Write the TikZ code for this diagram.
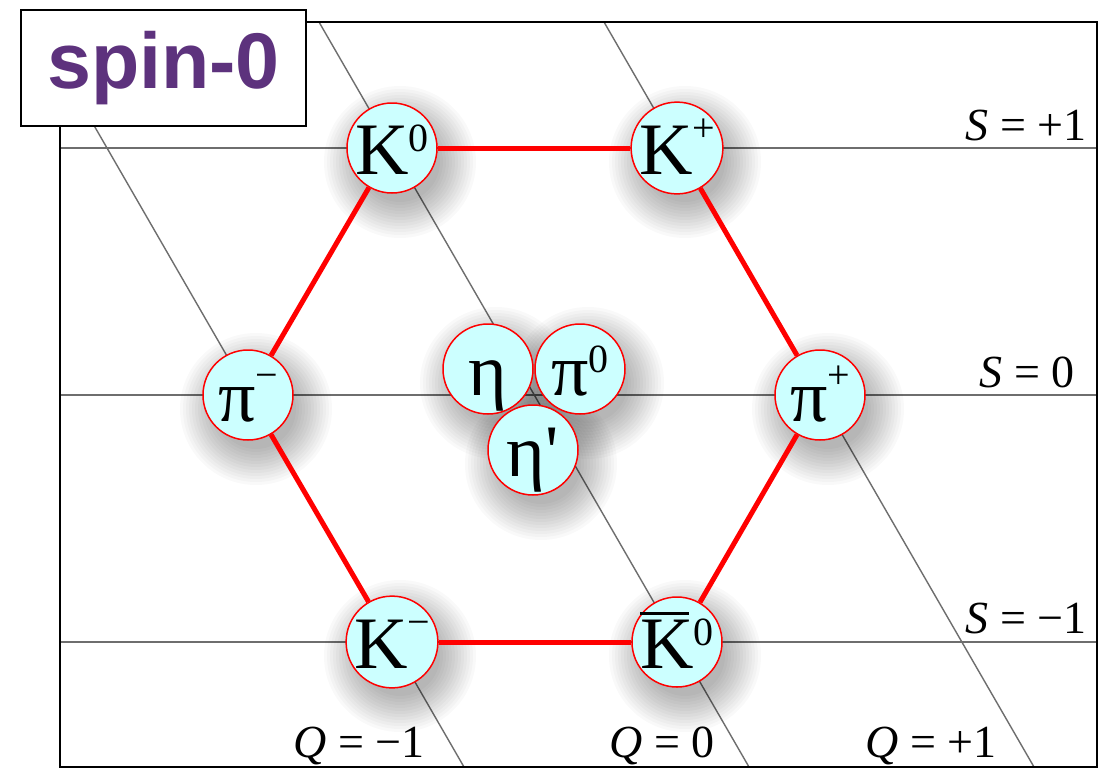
\documentclass[tikz,border=0pt]{standalone}
\usepackage{fontspec}
\setmainfont{Liberation Serif}
\newfontfamily\helv{Liberation Sans}
\usetikzlibrary{calc}
\definecolor{spinpurple}{RGB}{93,50,125}
\definecolor{nodecyan}{RGB}{204,255,255}
\definecolor{gridgray}{RGB}{110,110,110}
\pgfdeclarelayer{bg}\pgfdeclarelayer{shade}\pgfdeclarelayer{edges}
\pgfsetlayers{bg,shade,edges,main}
\newcommand\psup[1]{\raisebox{0.31em}{\fontsize{40}{40}\selectfont #1}}
\newcommand\psign[1]{\raisebox{0.44em}{\fontsize{40}{40}\selectfont #1}}
\newcommand\kbar{\leavevmode\rlap{\rule[0.71em]{0.66em}{0.045em}}K}
\newcommand\nshadow[1]{%
  \foreach \r in {40,43,...,76} {\fill[black,opacity=0.022] ($(#1.center)+(8,14)$) circle (\r pt);}}
\begin{document}
\begin{tikzpicture}[x=1pt,y=-1pt,
  particle/.style={circle, draw=red, line width=1.5pt, fill=nodecyan,
    minimum size=90pt, inner sep=0pt, text height=52pt, text depth=0pt,
    font=\fontsize{74}{74}\selectfont},
  grid/.style={draw=gridgray, line width=1.4pt},
  edge/.style={draw=red, line width=5pt},
  axislabel/.style={font=\fontsize{46}{46}\selectfont, inner sep=0pt},
  spinbox/.style={draw=black, line width=2pt, fill=white, inner sep=0pt,
    minimum width=285pt, minimum height=116pt, text=spinpurple,
    font=\helv\bfseries\fontsize{79}{79}\selectfont}]
\useasboundingbox (0,0) rectangle (1108,769);
% background, frame, grid
\begin{pgfonlayer}{bg}
  \fill[white] (0,0) rectangle (1108,769);
  \draw[grid] (60,148) -- (1097,148);
  \draw[grid] (60,395) -- (1097,395);
  \draw[grid] (60,642) -- (1097,642);
  \draw[grid] (60,66.5) -- (464,767);
  \draw[grid] (319,22) -- (749,767);
  \draw[grid] (604,22) -- (1034,767);
  \draw[black, line width=2pt] (60,22) rectangle (1097,767);
\end{pgfonlayer}
% particles
\node[particle] (K0)  at (392,148) {K\psup{0}};
\node[particle] (Kp)  at (677,148) {K\psign{+}};
\node[particle] (pim) at (248,395) {π\psign{−}};
\node[particle] (pip) at (820,395) {π\psign{+}};
\node[particle] (Km)  at (392,642) {K\psign{−}};
\node[particle] (K0b) at (677,642) {\kbar\psup{0}};
\node[particle] (eta) at (488,369) {η};
\node[particle] (pi0) at (580,369) {π\psup{0}};
\node[particle] (etap) at (533,450) {η\textquotesingle};
% shadows
\begin{pgfonlayer}{shade}
  \nshadow{K0}\nshadow{Kp}\nshadow{pim}\nshadow{pip}\nshadow{Km}\nshadow{K0b}
  \nshadow{eta}\nshadow{pi0}\nshadow{etap}
\end{pgfonlayer}
% hexagon
\begin{pgfonlayer}{edges}
  \draw[edge] (K0) -- (Kp);
  \draw[edge] (Kp) -- (pip);
  \draw[edge] (pip) -- (K0b);
  \draw[edge] (K0b) -- (Km);
  \draw[edge] (Km) -- (pim);
  \draw[edge] (pim) -- (K0);
\end{pgfonlayer}
% axis labels
\node[axislabel, anchor=base east] (S1)  at (1087,140) {\textit{S} = +1};
\node[axislabel, anchor=base east] (S0)  at (1075,387) {\textit{S} = 0};
\node[axislabel, anchor=base east] (Sm1) at (1087,633) {\textit{S} = −1};
\node[axislabel, anchor=base east] (Qm1) at (425,757) {\textit{Q} = −1};
\node[axislabel, anchor=base east] (Q0)  at (715,757) {\textit{Q} = 0};
\node[axislabel, anchor=base east] (Qp1) at (997,757) {\textit{Q} = +1};
% spin label
\node[spinbox] (spin) at (163.5,68) {spin-0};
\end{tikzpicture}
\end{document}
